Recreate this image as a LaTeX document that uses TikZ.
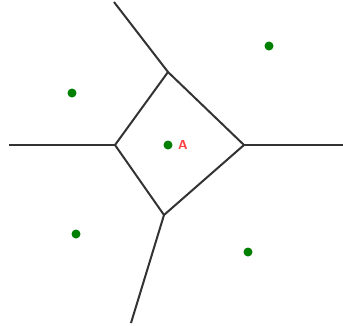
\documentclass[tikz,border=0pt]{standalone}
\begin{document}
\begin{tikzpicture}[x=1pt,y=-1pt,
  edge/.style={draw=black!80,line width=2pt},
  site/.style={circle,fill=green!50!black,inner sep=0pt,minimum size=9pt},
  lbl/.style={text=red!75!white,font=\sffamily\bfseries\fontsize{13}{13}\selectfont,inner sep=0pt}]
\useasboundingbox (0,0) rectangle (343,325);
\coordinate (vt) at (168,72);
\coordinate (vl) at (115,145);
\coordinate (vr) at (244,145);
\coordinate (vb) at (164,215);
\coordinate (et) at (114,2);
\coordinate (el) at (9,145);
\coordinate (er) at (343,145);
\coordinate (eb) at (131,323);
\draw[edge] (vt) -- (vr) -- (vb) -- (vl) -- cycle;
\draw[edge] (vt) -- (et);
\draw[edge] (vl) -- (el);
\draw[edge] (vr) -- (er);
\draw[edge] (vb) -- (eb);
\node[site] (s0) at (168,145) {};
\node[site] (s1) at (72,93) {};
\node[site] (s2) at (269,46) {};
\node[site] (s3) at (76,234) {};
\node[site] (s4) at (248,252) {};
\node[lbl] (a) at (183,145) {A};
\end{tikzpicture}
\end{document}
